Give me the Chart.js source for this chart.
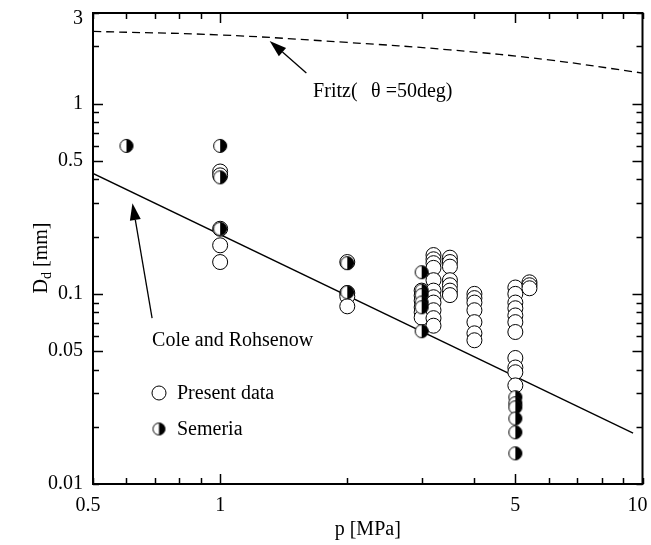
<!DOCTYPE html>
<html>
<head>
<meta charset="utf-8">
<script src="https://cdn.jsdelivr.net/npm/chart.js@4/dist/chart.umd.min.js"></script>
<style>
  html, body { margin: 0; padding: 0; background: #fff; }
  canvas { display: block; }
</style>
</head>
<body>
<canvas id="chart" width="651" height="545"></canvas>
<script>
// departure diameter Dd [mm] against pressure p [MPa], log-log
const presentData = [
  [1, 0.44], [1, 0.42], [1, 0.22], [1, 0.18], [1, 0.147],
  [2, 0.147], [2, 0.101], [2, 0.097], [2, 0.086],
  [3, 0.104], [3, 0.098], [3, 0.092], [3, 0.085], [3, 0.080], [3, 0.075],
  [3.2, 0.160], [3.2, 0.152], [3.2, 0.145], [3.2, 0.137], [3.2, 0.118], [3.2, 0.104],
  [3.2, 0.096], [3.2, 0.090], [3.2, 0.082], [3.2, 0.0745], [3.2, 0.068],
  [3.5, 0.155], [3.5, 0.147], [3.5, 0.139], [3.5, 0.118], [3.5, 0.111], [3.5, 0.104], [3.5, 0.0985],
  [4, 0.100], [4, 0.095], [4, 0.090], [4, 0.082], [4, 0.071], [4, 0.062], [4, 0.057],
  [5, 0.108], [5, 0.100], [5, 0.090], [5, 0.084], [5, 0.077], [5, 0.071], [5, 0.063],
  [5, 0.046], [5, 0.041], [5, 0.0387], [5, 0.033],
  [5.4, 0.115], [5.4, 0.111], [5.4, 0.107]
];
const semeriaData = [
  [0.6, 0.6],
  [1, 0.6], [1, 0.41], [1, 0.22],
  [2, 0.145], [2, 0.102],
  [3, 0.13], [3, 0.104], [3, 0.0985], [3, 0.090], [3, 0.085], [3, 0.0636],
  [5, 0.0286], [5, 0.0266], [5, 0.0253], [5, 0.0221], [5, 0.0187], [5, 0.0145]
];
// correlations
const coleP = [0.5, 9.5];
const coleD = [0.43, 0.0185];
const fritzP = [0.5, 1, 2, 3.5, 6, 10];
const fritzD = [2.4, 2.3, 2.1, 1.92, 1.7, 1.45];

const xTicks = [0.5, 0.6, 0.7, 0.8, 0.9, 1, 2, 3, 4, 5, 6, 7, 8, 9, 10];
const xLabels = [0.5, 1, 5, 10];
const xMajor = [1, 5];
const yTicks = [0.01, 0.02, 0.03, 0.04, 0.05, 0.06, 0.07, 0.08, 0.09,
                0.1, 0.2, 0.3, 0.4, 0.5, 0.6, 0.7, 0.8, 0.9, 1, 2, 3];
const yLabels = [0.01, 0.05, 0.1, 0.5, 1, 3];
const yMajor = [0.05, 0.1, 0.5, 1];

const FONT = '"Liberation Serif", "Times New Roman", serif';

function toPoints(pairs) {
  return pairs.map(function (d) { return { x: d[0], y: d[1] }; });
}
function zip(xs, ys) {
  return xs.map(function (x, i) { return { x: x, y: ys[i] }; });
}

// half filled circle marker (right half black)
function halfMarker(r) {
  const c = document.createElement('canvas');
  const s = Math.ceil(r * 2 + 3);
  c.width = s; c.height = s;
  const g = c.getContext('2d');
  const cx = s / 2, cy = s / 2;
  g.fillStyle = '#fff';
  g.beginPath(); g.arc(cx, cy, r, 0, Math.PI * 2); g.fill();
  g.fillStyle = '#000';
  g.beginPath(); g.arc(cx, cy, r, -Math.PI / 2, Math.PI / 2); g.closePath(); g.fill();
  g.strokeStyle = '#000'; g.lineWidth = 1;
  g.beginPath(); g.arc(cx, cy, r, 0, Math.PI * 2); g.stroke();
  return c;
}
const halfDot = halfMarker(6.5);
const halfDotLegend = halfMarker(6);

function line(ctx, x1, y1, x2, y2) {
  ctx.beginPath(); ctx.moveTo(x1, y1); ctx.lineTo(x2, y2); ctx.stroke();
}

function arrow(ctx, x1, y1, x2, y2) {
  const a = Math.atan2(y2 - y1, x2 - x1);
  const hl = 17, hw = 5.5;
  const bx = x2 - hl * Math.cos(a), by = y2 - hl * Math.sin(a);
  ctx.lineWidth = 1.3;
  line(ctx, x1, y1, bx, by);
  ctx.beginPath();
  ctx.moveTo(x2, y2);
  ctx.lineTo(bx + hw * Math.sin(a), by - hw * Math.cos(a));
  ctx.lineTo(bx - hw * Math.sin(a), by + hw * Math.cos(a));
  ctx.closePath();
  ctx.fill();
}

const framePlugin = {
  id: 'frame',
  afterDraw: function (chart) {
    const ctx = chart.ctx;
    const a = chart.chartArea;
    const xs = chart.scales.x, ys = chart.scales.y;
    ctx.save();
    ctx.strokeStyle = '#000';
    ctx.fillStyle = '#000';

    // inward ticks on all four sides
    ctx.lineWidth = 1.5;
    xTicks.forEach(function (v) {
      const px = Math.round(xs.getPixelForValue(v)) + 0.5;
      const len = xMajor.includes(v) ? 10 : 6;
      line(ctx, px, a.bottom, px, a.bottom - len);
      line(ctx, px, a.top, px, a.top + len);
    });
    yTicks.forEach(function (v) {
      const py = Math.round(ys.getPixelForValue(v)) + 0.5;
      const len = yMajor.includes(v) ? 10 : 6;
      line(ctx, a.left, py, a.left + len, py);
      line(ctx, a.right, py, a.right - len, py);
    });

    ctx.lineWidth = 2;
    ctx.strokeRect(a.left, a.top, a.right - a.left, a.bottom - a.top);

    // axis titles
    ctx.font = '20px ' + FONT;
    ctx.textAlign = 'center';
    ctx.textBaseline = 'alphabetic';
    ctx.fillText('p [MPa]', (a.left + a.right) / 2, 535);

    ctx.save();
    ctx.translate(47, 258);
    ctx.rotate(-Math.PI / 2);
    ctx.textAlign = 'left';
    const f1 = '20px ' + FONT, f2 = '14px ' + FONT;
    ctx.font = f1; const wD = ctx.measureText('D').width;
    ctx.font = f2; const wd = ctx.measureText('d').width;
    ctx.font = f1; const wm = ctx.measureText(' [mm]').width;
    let x0 = -(wD + wd + wm) / 2;
    ctx.font = f1; ctx.fillText('D', x0, 0);
    ctx.font = f2; ctx.fillText('d', x0 + wD, 4);
    ctx.font = f1; ctx.fillText(' [mm]', x0 + wD + wd, 0);
    ctx.restore();

    // correlation labels with arrows
    const P = function (p, d) { return [xs.getPixelForValue(p), ys.getPixelForValue(d)]; };
    let t = P(1.6, 1.45), h = P(1.31, 2.14);
    arrow(ctx, t[0], t[1], h[0], h[1]);
    const ft = P(1.66, 1.15);
    ctx.font = '20px ' + FONT;
    ctx.textAlign = 'left';
    ctx.textBaseline = 'middle';
    ctx.fillText('Fritz(', ft[0], ft[1]);
    ctx.fillText('\u03b8 =50deg)', ft[0] + 58, ft[1]);

    t = P(0.69, 0.0745); h = P(0.62, 0.3);
    arrow(ctx, t[0], t[1], h[0], h[1]);
    const ct = P(0.69, 0.057);
    ctx.fillText('Cole and Rohsenow', ct[0], ct[1]);

    // legend
    const lx = a.left + 66, ly1 = a.top + 380, ly2 = a.top + 416;
    ctx.lineWidth = 1;
    ctx.fillStyle = '#fff';
    ctx.beginPath(); ctx.arc(lx, ly1, 7, 0, Math.PI * 2); ctx.fill(); ctx.stroke();
    ctx.drawImage(halfDotLegend, lx - halfDotLegend.width / 2, ly2 - halfDotLegend.height / 2);
    ctx.fillStyle = '#000';
    ctx.fillText('Present data', lx + 18, ly1 + 1);
    ctx.fillText('Semeria', lx + 18, ly2 + 1);
    ctx.restore();
  }
};

function axisTicks(labels, fmt, font) {
  return {
    autoSkip: false,
    maxRotation: 0,
    minRotation: 0,
    padding: 10,
    color: '#000',
    font: font || { family: FONT, size: 20 },
    callback: function (value) {
      return labels.includes(value) ? fmt(value) : '';
    }
  };
}

// end labels pulled in a little so they stay inside the canvas
function xFmt(v) {
  if (v === 0.5) return '0.5  ';
  if (v === 10) return '10  ';
  return String(v);
}
function yFmt(v) {
  return v === 3 ? ['', '3'] : String(v);
}
function yFont(c) {
  if (c.tick && c.tick.value === 3) return { family: FONT, size: 20, lineHeight: '12px' };
  return { family: FONT, size: 20 };
}

// fixed axis size, and no extra inset for overhanging end labels
function fixSize(w, h) {
  return function (scale) {
    if (w) scale.width = w;
    if (h) scale.height = h;
    scale.paddingLeft = 0; scale.paddingRight = 0;
    scale.paddingTop = 0; scale.paddingBottom = 0;
  };
}

Chart.defaults.font.family = FONT;
Chart.defaults.color = '#000';

new Chart(document.getElementById('chart'), {
  type: 'scatter',
  data: {
    datasets: [
      {
        label: 'Semeria',
        data: toPoints(semeriaData),
        pointStyle: halfDot,
        pointRadius: 7,
        pointHoverRadius: 7
      },
      {
        label: 'Present data',
        data: toPoints(presentData),
        pointStyle: 'circle',
        pointRadius: 7.5,
        pointHoverRadius: 7.5,
        backgroundColor: '#fff',
        borderColor: '#000',
        borderWidth: 1
      },
      {
        label: 'Cole and Rohsenow',
        data: zip(coleP, coleD),
        showLine: true,
        pointRadius: 0,
        borderColor: '#000',
        borderWidth: 1.3
      },
      {
        label: 'Fritz',
        data: zip(fritzP, fritzD),
        showLine: true,
        tension: 0.4,
        pointRadius: 0,
        borderColor: '#000',
        borderWidth: 1.3,
        borderDash: [8, 5]
      }
    ]
  },
  options: {
    responsive: false,
    animation: false,
    layout: { padding: { left: 0, top: 13, right: 8, bottom: 0 } },
    plugins: { legend: { display: false }, tooltip: { enabled: false } },
    scales: {
      x: {
        type: 'logarithmic',
        min: 0.5,
        max: 10,
        grid: { display: false, drawTicks: false },
        border: { display: false },
        ticks: axisTicks(xLabels, xFmt),
        afterBuildTicks: function (scale) {
          scale.ticks = xTicks.map(function (v) { return { value: v }; });
        },
        afterFit: fixSize(0, 61)
      },
      y: {
        type: 'logarithmic',
        min: 0.01,
        max: 3,
        grid: { display: false, drawTicks: false },
        border: { display: false },
        ticks: axisTicks(yLabels, yFmt, yFont),
        afterBuildTicks: function (scale) {
          scale.ticks = yTicks.map(function (v) { return { value: v }; });
        },
        afterFit: fixSize(93, 0)
      }
    }
  },
  plugins: [framePlugin]
});
</script>
</body>
</html>
